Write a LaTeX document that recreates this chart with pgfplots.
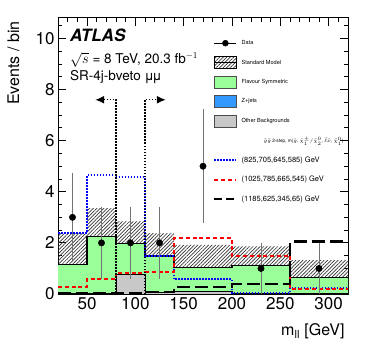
\documentclass[border=0pt]{standalone}
\usepackage{fontspec}
\setmainfont{TeX Gyre Heros}
\usepackage{pgfplots}
\pgfplotsset{compat=1.18}
\usepgfplotslibrary{fillbetween}
\usetikzlibrary{patterns.meta,arrows.meta,calc}
\definecolor{fsgreen}{RGB}{153,255,153}
\definecolor{zblue}{RGB}{51,153,255}
\definecolor{othergray}{RGB}{200,200,200}
\tikzset{hatchband/.style={pattern={Lines[angle=45,distance=2.5pt,line width=0.7pt]}, pattern color=black!80}}
\begin{document}
\begin{tikzpicture}
\begin{axis}[
  scale only axis, width=290pt, height=276pt,
  xmin=20, xmax=320, ymin=0, ymax=10.8,
  xtick={50,100,...,300}, minor xtick={20,30,...,320},
  ytick={0,2,...,10}, minor ytick={0,0.5,...,10.5},
  tick align=inside, major tick length=8pt, minor tick length=4pt,
  axis line style={line width=1pt},
  every tick/.style={black, line width=0.8pt},
  tick label style={font=\fontsize{17}{17}\selectfont},
  /pgf/number format/assume math mode=true,
  xlabel={m\textsubscript{ll} [GeV]},
  ylabel={Events / bin},
  label style={font=\fontsize{16}{16}\selectfont},
  xlabel style={at={(rel axis cs:1,0)}, anchor=north east, yshift=-26pt},
  ylabel style={at={($(rel axis cs:0,1)+(-35pt,0pt)$)}, anchor=south east},
  legend style={draw=none, fill=none, at={(rel axis cs:0.5345,0.9448)}, anchor=north west,
    row sep=0pt, column sep=4pt, inner sep=0pt,
    nodes={inner sep=0pt, minimum height=19.5pt, anchor=west, font=\fontsize{5.6}{6}\selectfont}},
  legend cell align=left,
]
% Flavour symmetric (top of stack = SM total)
\addplot[const plot, fill=fsgreen, draw=none, forget plot] coordinates {(20,1.14)(50,2.25)(80,1.99)(110,1.49)(140,1.05)(200,1.10)(260,0.65)(320,0.65)} \closedcycle;
% Other backgrounds
\addplot[const plot, fill=othergray, draw=black, line width=0.8pt, forget plot] coordinates {(20,0.02)(50,0.03)(80,0.78)(110,0.05)(140,0.10)(200,0.03)(260,0.02)(320,0.02)} \closedcycle;
% SM uncertainty band
\addplot[const plot, name path=up, draw=none, forget plot] coordinates {(20,2.38)(50,3.36)(80,2.84)(110,2.38)(140,1.92)(200,1.86)(260,1.33)(320,1.33)};
\addplot[const plot, name path=lo, draw=none, forget plot] coordinates {(20,0.0)(50,1.14)(80,0.80)(110,0.60)(140,0.30)(200,0.40)(260,0.0)(320,0.0)};
\addplot[hatchband, forget plot] fill between[of=up and lo];
% SM total line
\addplot[const plot, black, line width=1.2pt, forget plot] coordinates {(20,1.14)(50,2.25)(80,1.99)(110,1.49)(140,1.05)(200,1.10)(260,0.65)(320,0.65)};
% signals
\addplot[const plot, blue, line width=2pt, dash pattern=on 1.6pt off 1.4pt, forget plot] coordinates {(20,2.40)(50,4.65)(80,4.58)(110,1.50)(140,0.57)(200,0.04)(260,0.24)(320,0.24)};
\addplot[const plot, red, line width=2pt, dash pattern=on 4pt off 2.8pt, forget plot] coordinates {(20,0.26)(50,0.58)(80,0.84)(110,0.85)(140,2.18)(200,1.49)(260,0.20)(320,0.20)};
\addplot[const plot, black, line width=2.4pt, dash pattern=on 13pt off 5pt, forget plot] coordinates {(20,0.03)(50,0.05)(80,0.04)(110,0.08)(140,0.27)(200,0.38)(260,2.05)(320,2.05)};
% cut lines
\addplot[black, line width=1.3pt, dash pattern=on 1.5pt off 1.5pt, {Latex[length=9pt,width=8pt]}-, forget plot] coordinates {(58.5,7.6)(80,7.6)(80,0)};
\addplot[black, line width=1.3pt, dash pattern=on 1.5pt off 1.5pt, -{Latex[length=9pt,width=8pt]}, forget plot] coordinates {(110,0)(110,7.6)(131.5,7.6)};
% data
\addplot[forget plot, only marks, mark=*, mark size=3.2pt, black,
  error bars/.cd, y dir=both, y explicit, error mark=none,
  error bar style={black!55, line width=0.9pt}]
  coordinates {(35,3) +- (0,1.732) (65,2) +- (0,1.414) (95,2) +- (0,1.414) (125,2) +- (0,1.414) (170,5) +- (0,2.236) (230,1) +- (0,1) (290,1) +- (0,1)};

% labels
\node[anchor=base west, inner sep=0pt, font=\fontsize{17}{17}\selectfont\bfseries\itshape] at ($(rel axis cs:0,1)+(12pt,-24pt)$) {ATLAS};
\node[anchor=base west, inner sep=0pt, font=\fontsize{13.5}{14}\selectfont] at ($(rel axis cs:0,1)+(12pt,-46pt)$) {$\sqrt{s}$ = 8 TeV, 20.3 fb$^{-1}$};
\node[anchor=base west, inner sep=0pt, font=\fontsize{13.5}{14}\selectfont] at ($(rel axis cs:0,1)+(12pt,-63pt)$) {SR-4j-bveto μ\kern-1.5ptμ};

% legend
\addlegendimage{legend image code/.code={\draw[black,line width=1pt] (0pt,0pt)--(22pt,0pt); \fill[black] (11pt,0pt) circle (3pt);}}
\addlegendentry{Data}
\addlegendimage{legend image code/.code={\fill[hatchband] (0pt,-6pt) rectangle (22pt,6pt); \draw[black,line width=1.2pt] (0pt,0pt)--(22pt,0pt);}}
\addlegendentry{Standard Model}
\addlegendimage{legend image code/.code={\draw[fill=fsgreen, draw=black!70, line width=0.6pt] (0pt,-6pt) rectangle (22pt,6pt);}}
\addlegendentry{Flavour Symmetric}
\addlegendimage{legend image code/.code={\draw[fill=zblue, draw=black!70, line width=0.6pt] (0pt,-6pt) rectangle (22pt,6pt);}}
\addlegendentry{Z+jets}
\addlegendimage{legend image code/.code={\draw[fill=othergray, draw=black!70, line width=0.6pt] (0pt,-6pt) rectangle (22pt,6pt);}}
\addlegendentry{Other Backgrounds}
\addlegendimage{empty legend}
\addlegendentry{\hspace*{22pt}\fontsize{4.7}{5}\selectfont $\tilde{g}\tilde{g}$ 2-step, m($\tilde{g}$, $\tilde{\chi}^{\pm}_{1}/\tilde{\chi}^{0}_{2}$, $\tilde{\ell}\tilde{\nu}$, $\tilde{\chi}^{0}_{1}$)}
\addlegendimage{legend image code/.code={\draw[blue, line width=2pt, dash pattern=on 1.6pt off 1.4pt] (0pt,0pt)--(22pt,0pt);}}
\addlegendentry{\fontsize{7.5}{8}\selectfont (825,705,645,585) GeV}
\addlegendimage{legend image code/.code={\draw[red, line width=2pt, dash pattern=on 4pt off 2.8pt] (0pt,0pt)--(22pt,0pt);}}
\addlegendentry{\fontsize{7.5}{8}\selectfont (1025,785,665,545) GeV}
\addlegendimage{legend image code/.code={\draw[black, line width=2.4pt, dash pattern=on 8pt off 4pt] (0pt,0pt)--(22pt,0pt);}}
\addlegendentry{\fontsize{7.5}{8}\selectfont (1185,625,345,65) GeV}
\end{axis}
\path (-58pt,-57pt) rectangle (308pt,294pt);
\end{tikzpicture}
\end{document}
